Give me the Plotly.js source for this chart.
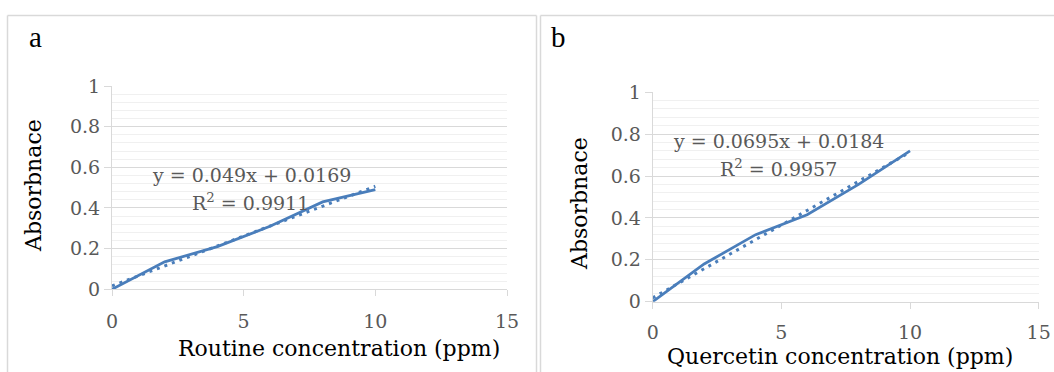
<!DOCTYPE html>
<html><head><meta charset="utf-8">
<script src="https://cdn.plot.ly/plotly-3.0.1.min.js"></script>
<style>html,body{margin:0;padding:0;background:#fff;}#chart{width:1054px;height:372px;}</style>
</head><body><div id="chart"></div>
<script>
// ---- data ----
const concA = [0, 2, 4, 6, 8, 10];
const absA = [0, 0.135, 0.21, 0.31, 0.43, 0.49];
const trendAx = [0, 10];
const trendAy = [0.0169, 0.5069];
const eqA = ['y = 0.049x + 0.0169', 'R<sup>2</sup> = 0.9911'];

const concB = [0, 2, 4, 6, 8, 10];
const absB = [0, 0.18, 0.32, 0.415, 0.56, 0.72];
const trendBx = [0, 10];
const trendBy = [0.0184, 0.7134];
const eqB = ['y = 0.0695x + 0.0184', 'R<sup>2</sup> = 0.9957'];

const xTicks = [0, 5, 10, 15];
const yTicks = [0, 0.2, 0.4, 0.6, 0.8, 1];
const yTickText = ['0', '0.2', '0.4', '0.6', '0.8', '1'];
const panelLabels = ['a', 'b'];
const xTitles = ['Routine concentration (ppm)', 'Quercetin concentration (ppm)'];
const yTitle = 'Absorbnace';

// ---- layout helpers ----
const W = 1054, H = 372;
const px = v => v / W;
const py = v => 1 - v / H;
const BLUE = '#4a7ebb';
const GRID = '#d9d9d9';
const SERIF = 'DejaVu Serif';
const tickFont = {family: SERIF, size: 19, color: '#595959'};

function xAxis(l, r, anchor, standoff) {
  return {domain: [px(l), px(r)], range: [0, 15], tickvals: xTicks, ticks: 'outside', ticklen: 6,
    tickcolor: GRID, showline: true, linecolor: GRID, linewidth: 1, showgrid: false, zeroline: false,
    tickfont: tickFont, ticklabelstandoff: standoff, anchor: anchor, fixedrange: true};
}
function yAxis(b, t, anchor) {
  return {domain: [py(b), py(t)], range: [0, 1], tickvals: yTicks, ticktext: yTickText, ticks: 'outside',
    ticklen: 7, tickcolor: GRID, showline: true, linecolor: GRID, linewidth: 1, showgrid: true,
    gridcolor: GRID, gridwidth: 1, zeroline: false, tickfont: tickFont, anchor: anchor, fixedrange: true,
    minor: {tick0: 0, dtick: 0.04, showgrid: true, gridcolor: '#f0f0f0', gridwidth: 1, ticks: ''}};
}

const traces = [
  {x: trendAx, y: trendAy, xaxis: 'x', yaxis: 'y', mode: 'lines', line: {color: BLUE, width: 3, dash: '3px,5px'}, hoverinfo: 'skip'},
  {x: concA, y: absA, xaxis: 'x', yaxis: 'y', mode: 'lines', line: {color: BLUE, width: 2.75}},
  {x: trendBx, y: trendBy, xaxis: 'x2', yaxis: 'y2', mode: 'lines', line: {color: BLUE, width: 3, dash: '3px,5px'}, hoverinfo: 'skip'},
  {x: concB, y: absB, xaxis: 'x2', yaxis: 'y2', mode: 'lines', line: {color: BLUE, width: 2.75}}
];

function ann(text, x, y, font, extra) {
  return Object.assign({text: text, x: px(x), y: py(y), xref: 'paper', yref: 'paper', showarrow: false,
    xanchor: 'center', yanchor: 'middle', font: font}, extra || {});
}
const eqFont = {family: SERIF, size: 19, color: '#595959'};
const titleFont = {family: SERIF, size: 22, color: '#000000'};
const labelFont = {family: 'Liberation Serif', size: 29, color: '#000000'};

const annotations = [
  ann(panelLabels[0], 35.7, 37, labelFont),
  ann(panelLabels[1], 558, 37, labelFont),
  ann(eqA[0], 251, 175, eqFont),
  ann(eqA[1], 250.5, 201.5, eqFont),
  ann(eqB[0], 778, 141, eqFont),
  ann(eqB[1], 778, 168, eqFont),
  ann(xTitles[0], 339, 348, titleFont),
  ann(xTitles[1], 840, 356.5, titleFont, {borderpad: 0}),
  ann(yTitle, 33, 186, titleFont, {textangle: -90}),
  ann(yTitle, 580, 204, titleFont, {textangle: -90})
];

const BORDER = {color: '#d9d9d9', width: 1.5};
function seg(x0, y0, x1, y1) {
  return {type: 'line', xref: 'paper', yref: 'paper', x0: px(x0), y0: py(y0), x1: px(x1), y1: py(y1), line: BORDER, layer: 'below'};
}
const shapes = [
  seg(7.5, 15.5, 536.5, 15.5), seg(7.5, 15.5, 7.5, 380), seg(536.5, 15.5, 536.5, 380),
  seg(540.5, 15.5, 1060, 15.5), seg(540.5, 15.5, 540.5, 380)
];

const layout = {
  width: W, height: H, margin: {l: 0, r: 0, t: 0, b: 0}, showlegend: false,
  paper_bgcolor: '#ffffff', plot_bgcolor: '#ffffff',
  xaxis: xAxis(112, 507, 'y', 9), yaxis: yAxis(289.3, 86, 'x'),
  xaxis2: xAxis(652.7, 1038.7, 'y2', 7), yaxis2: yAxis(301.7, 92.2, 'x2'),
  annotations: annotations, shapes: shapes
};
Plotly.newPlot('chart', traces, layout, {staticPlot: true, displayModeBar: false});
</script>
</body></html>
